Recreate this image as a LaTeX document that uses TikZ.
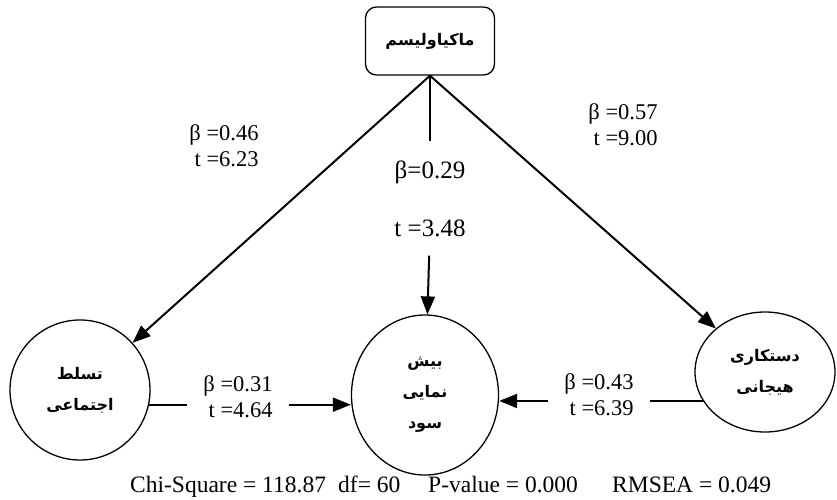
\documentclass[tikz,border=0pt]{standalone}
\usepackage{fontspec}
\setmainfont{Liberation Serif}
\newfontfamily\farsi[Script=Arabic]{DejaVu Sans}
\TeXXeTstate=1
\usepackage{tikz}
\usetikzlibrary{arrows.meta,positioning,shapes.geometric}
\tikzset{
  topbox/.style={rectangle, rounded corners=11pt, draw=black, line width=1.3pt,
    minimum width=129pt, minimum height=68pt, font=\farsi\bfseries\fontsize{16}{18}\selectfont},
  varnode/.style={ellipse, draw=black, line width=1.3pt, align=center,
    font=\farsi\bfseries\fontsize{16}{31}\selectfont},
  coeflabel/.style={align=right, inner xsep=14pt, font=\fontsize{22.5}{26}\selectfont},
  midlabel/.style={inner xsep=2pt, inner ysep=19pt, font=\fontsize{25}{30}\selectfont},
  fitlabel/.style={anchor=base west, inner sep=0pt, font=\fontsize{23.5}{28}\selectfont},
  plainedge/.style={draw=black, line width=2pt},
  arrowedge/.style={-{Triangle[length=18pt, width=14pt]}, draw=black, line width=2pt},
}
\begin{document}
\begin{tikzpicture}[x=1pt, y=-1pt]
  \useasboundingbox (0,0) rectangle (837,499);
  % variables
  \node[topbox] (mach) at (430,41) {\beginR ماکیاولیسم\endR};
  \node[varnode, minimum width=140pt, minimum height=140pt] (dom) at (80,390)
    {\beginR تسلط\endR\\ \beginR اجتماعی\endR};
  \node[varnode, minimum width=147pt, minimum height=160pt] (pred) at (425,395)
    {\beginR بیش\endR\\ \beginR نمایی\endR\\ \beginR سود\endR};
  \node[varnode, minimum width=140pt, minimum height=120pt] (emo) at (765,372)
    {\beginR دستکاری\endR\\ \beginR هیجانی\endR};
  % coefficients
  \node[coeflabel] (b46) at (224,146) {β =0.46\\ t =6.23};
  \node[coeflabel] (b57) at (623,125) {β =0.57\\ t =9.00};
  \node[midlabel] (b29) at (430,172) {β=0.29};
  \node[midlabel] (t348) at (430,228) {t =3.48};
  \node[coeflabel, inner xsep=16pt] (b31) at (238,397) {β =0.31\\ t =4.64};
  \node[coeflabel, inner xsep=16pt] (b43) at (599,395) {β =0.43\\ t =6.39};
  % paths
  \draw[arrowedge] (mach.south) -- (dom);
  \draw[arrowedge] (mach.south) -- (emo);
  \draw[plainedge] (mach.south) -- (b29);
  \draw[arrowedge] (t348) -- (pred);
  \draw[plainedge] (dom.-12) -- (dom.-12 -| b31.west);
  \draw[arrowedge] (b31.east |- dom.-12) -- (pred.west |- dom.-12);
  \draw[plainedge] (emo.205) -- (emo.205 -| b43.east);
  \draw[arrowedge] (b43.west |- emo.205) -- (pred.east |- emo.205);
  % fit indices
  \node[fitlabel] (chi) at (130,492) {Chi-Square = 118.87};
  \node[fitlabel] (df) at (338,492) {df= 60};
  \node[fitlabel] (pv) at (428,492) {P-value = 0.000};
  \node[fitlabel] (rm) at (612,492) {RMSEA = 0.049};
\end{tikzpicture}
\end{document}
